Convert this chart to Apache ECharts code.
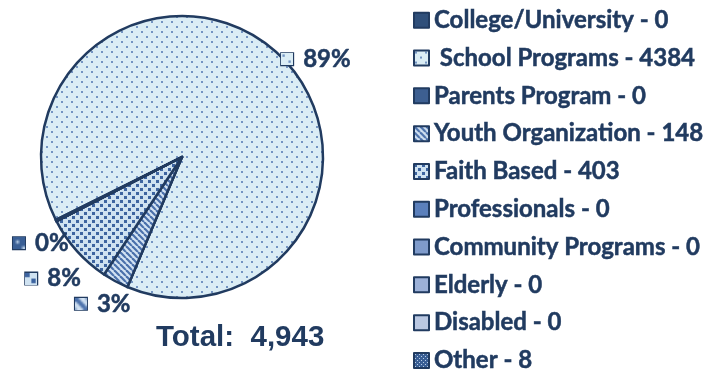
<!DOCTYPE html>
<html>
<head>
<meta charset="utf-8">
<script src="https://cdn.jsdelivr.net/npm/echarts@6/dist/echarts.min.js"></script>
<style>
html,body{margin:0;padding:0;background:#fff;}
#main{width:726px;height:371px;}
</style>
</head>
<body>
<div id="main"></div>
<script>
var categories = ['College/University', ' School Programs', 'Parents Program', 'Youth Organization', 'Faith Based', 'Professionals', 'Community Programs', 'Elderly', 'Disabled', 'Other'];
var values = [0, 4384, 0, 148, 403, 0, 0, 0, 0, 8];
var totalLabel = 'Total:  4,943';

var NAVY = '#213b60';

// small label nudges (style only), per slice index: [dx, dy]
var labelNudge = { 1: [-5, 8], 3: [22, 19], 4: [12, 25], 9: [21, 21] };

function tile(w, h, draw) {
  var c = document.createElement('canvas');
  c.width = w; c.height = h;
  draw(c.getContext('2d'));
  return c;
}
var schoolTile = tile(10, 10, function (g) {
  g.fillStyle = '#dbedf5'; g.fillRect(0, 0, 10, 10);
  g.fillStyle = '#7394c2';
  g.fillRect(1, 1, 2, 2);
  g.fillRect(6, 6, 2, 2);
});
var youthTile = tile(6, 6, function (g) {
  g.fillStyle = '#d3e3f3'; g.fillRect(0, 0, 6, 6);
  g.strokeStyle = '#4a70ab'; g.lineWidth = 2.2;
  for (var k = -6; k <= 12; k += 6) {
    g.beginPath(); g.moveTo(k, 0); g.lineTo(k + 6, 6); g.stroke();
  }
});
var faithTile = tile(8, 8, function (g) {
  g.fillStyle = '#cfe2f1'; g.fillRect(0, 0, 8, 8);
  g.fillStyle = '#3d64a0';
  g.fillRect(0, 0, 3, 3);
  g.fillRect(4, 4, 3, 3);
});
var otherTile = tile(4, 4, function (g) {
  g.fillStyle = '#3a5f95'; g.fillRect(0, 0, 4, 4);
  g.fillStyle = '#b7cde6';
  g.fillRect(1, 1, 1, 1);
  g.fillRect(3, 3, 1, 1);
});
function pat(c) { return { image: c, repeat: 'repeat' }; }

var sliceColors = ['#2f4f7a', pat(schoolTile), '#3d5f91', pat(youthTile), pat(faithTile), '#5b80bc', '#7f9bcb', '#9cb1d8', '#bac8e2', pat(otherTile)];
var iconImgs = [null, schoolTile, null, youthTile, faithTile, null, null, null, null, otherTile];

var total = values.reduce(function (a, b) { return a + b; }, 0);

var rich = {
  pct: { fontFamily: 'Lato', fontWeight: 'bold', fontSize: 24, color: NAVY, textBorderColor: NAVY, textBorderWidth: 0.5, padding: [0, 0, 0, 10] }
};
categories.forEach(function (c, i) {
  rich['ic' + i] = {
    width: 12, height: 12,
    backgroundColor: iconImgs[i] ? { image: iconImgs[i] } : sliceColors[i],
    borderColor: NAVY, borderWidth: 2
  };
});

var data = categories.map(function (c, i) {
  return {
    name: c,
    value: values[i],
    itemStyle: { color: sliceColors[i] },
    label: { show: values[i] > 0 }
  };
});

var chart = echarts.init(document.getElementById('main'), null, { renderer: 'canvas' });
chart.setOption({
  animation: false,
  title: {
    text: totalLabel,
    left: 156, top: 323,
    padding: 0,
    textStyle: { fontFamily: 'Liberation Sans', fontWeight: 'bold', fontSize: 29.5, color: NAVY }
  },
  legend: {
    orient: 'vertical',
    left: 413, top: 8,
    height: 420,
    padding: 0,
    itemWidth: 15, itemHeight: 15,
    itemGap: 13.3,
    icon: 'rect',
    selectedMode: false,
    formatter: function (name) {
      var i = categories.indexOf(name);
      return name + ' - ' + values[i];
    },
    textStyle: { fontFamily: 'Lato', fontWeight: 'bold', fontSize: 24, color: NAVY, textBorderColor: NAVY, textBorderWidth: 0.5, padding: [0, 0, 0, 0] },
    itemStyle: { borderColor: NAVY, borderWidth: 2 }
  },
  series: [{
    type: 'pie',
    center: [182, 157],
    radius: 141,
    startAngle: 206.5,
    clockwise: true,
    avoidLabelOverlap: false,
    itemStyle: { borderColor: NAVY, borderWidth: 2.5 },
    label: {
      position: 'outside',
      formatter: function (p) {
        return '{ic' + p.dataIndex + '|}{pct|' + Math.round(p.value / total * 100) + '%}';
      },
      rich: rich
    },
    labelLine: { show: false, length: 4, length2: 0 },
    labelLayout: function (p) {
      var n = labelNudge[p.dataIndex] || [0, 0];
      return { dx: n[0], dy: n[1] };
    },
    emphasis: { disabled: true },
    data: data
  }]
});
</script>
</body>
</html>
